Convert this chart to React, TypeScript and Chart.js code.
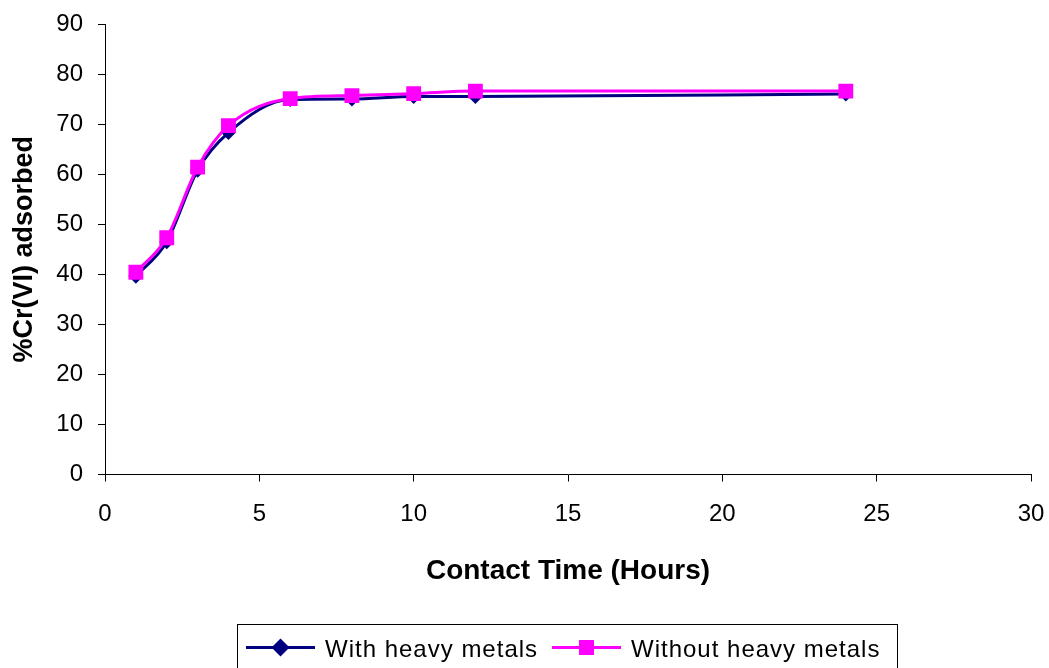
import { useEffect, useRef } from "react";
import { Chart, registerables } from "chart.js";

Chart.register(...registerables);

const contactTime = [1, 2, 3, 4, 6, 8, 10, 12, 24];
const withHeavyMetals = [39.6, 46.5, 60.8, 68.3, 74.9, 75.0, 75.5, 75.5, 76.0];
const withoutHeavyMetals = [40.4, 47.3, 61.4, 69.7, 75.1, 75.7, 76.1, 76.6, 76.6];
const seriesLabels = ["With heavy metals", "Without heavy metals"];
const seriesColors = ["#000080", "#FF00FF"];
const xTitle = "Contact Time (Hours)";
const yTitle = "%Cr(VI) adsorbed";

const FONT = '"Liberation Sans", Arial, Helvetica, sans-serif';

const boxLegend = {
  id: "boxLegend",
  afterDraw(chart: any) {
    const ctx = chart.ctx as CanvasRenderingContext2D;
    ctx.save();
    ctx.strokeStyle = "#000";
    ctx.lineWidth = 1;
    ctx.strokeRect(237.5, 624.5, 660, 60);
    const starts = [246, 552];
    const y = 647.5;
    chart.data.datasets.forEach((ds: any, i: number) => {
      const x0 = starts[i];
      ctx.strokeStyle = ds.borderColor;
      ctx.lineWidth = 3;
      ctx.beginPath();
      ctx.moveTo(x0, y);
      ctx.lineTo(x0 + 69, y);
      ctx.stroke();
      const cx = x0 + 34.5;
      ctx.fillStyle = ds.backgroundColor;
      ctx.beginPath();
      if (ds.pointStyle === "rectRot") {
        const r = 9;
        ctx.moveTo(cx, y - r);
        ctx.lineTo(cx + r, y);
        ctx.lineTo(cx, y + r);
        ctx.lineTo(cx - r, y);
        ctx.closePath();
      } else {
        const s = 7.5;
        ctx.rect(cx - s, y - s, 2 * s, 2 * s);
      }
      ctx.fill();
      ctx.fillStyle = "#000";
      ctx.font = `24px ${FONT}`;
      (ctx as any).letterSpacing = "1px";
      ctx.textBaseline = "alphabetic";
      ctx.textAlign = "left";
      ctx.fillText(ds.label, x0 + 79, 657);
    });
    ctx.restore();
  },
};

export default function App() {
  const ref = useRef<HTMLCanvasElement>(null);
  useEffect(() => {
    if (!ref.current) return;
    const chart = new Chart(ref.current, {
      type: "line",
      data: {
        datasets: [
          {
            label: seriesLabels[0],
            data: contactTime.map((t, i) => ({ x: t, y: withHeavyMetals[i] })),
            borderColor: seriesColors[0],
            backgroundColor: seriesColors[0],
            borderWidth: 3,
            pointStyle: "rectRot",
            pointRadius: 7.5,
            pointBorderWidth: 0,
            cubicInterpolationMode: "monotone",
            order: 1,
          },
          {
            label: seriesLabels[1],
            data: contactTime.map((t, i) => ({ x: t, y: withoutHeavyMetals[i] })),
            borderColor: seriesColors[1],
            backgroundColor: seriesColors[1],
            borderWidth: 3,
            pointStyle: "rect",
            pointRadius: 10.5,
            pointBorderWidth: 0,
            cubicInterpolationMode: "monotone",
            order: 0,
          },
        ],
      },
      options: {
        animation: false,
        responsive: false,
        layout: { padding: { left: 0, right: 18, top: 24, bottom: 79.5 } },
        plugins: {
          legend: { display: false },
          tooltip: { enabled: false },
        },
        scales: {
          x: {
            type: "linear",
            min: 0,
            max: 30,
            ticks: {
              stepSize: 5,
              color: "#000",
              font: { family: FONT, size: 24 },
              padding: 18,
              maxRotation: 0,
            },
            grid: {
              drawOnChartArea: false,
              drawTicks: true,
              tickLength: 7,
              color: "#000",
              lineWidth: 1,
            },
            border: { color: "#000", width: 1 },
            title: {
              display: true,
              text: xTitle,
              color: "#000",
              font: { family: FONT, size: 28, weight: "bold" },
              padding: { top: 0, bottom: 0 },
            },
            afterFit: (scale: any) => {
              scale.height = 114;
              scale.paddingRight = 0;
              scale.paddingLeft = 0;
            },
          },
          y: {
            min: 0,
            max: 90,
            ticks: {
              stepSize: 10,
              color: "#000",
              font: { family: FONT, size: 24 },
              padding: 15,
            },
            grid: {
              drawOnChartArea: false,
              drawTicks: true,
              tickLength: 7,
              color: "#000",
              lineWidth: 1,
            },
            border: { color: "#000", width: 1 },
            title: {
              display: true,
              text: yTitle,
              color: "#000",
              font: { family: FONT, size: 27, weight: "bold" },
              padding: { top: 8, bottom: 0 },
            },
            afterFit: (scale: any) => {
              scale.width = 105;
              scale.paddingTop = 0;
              scale.paddingBottom = 0;
            },
          },
        },
      } as any,
      plugins: [boxLegend],
    });
    return () => chart.destroy();
  }, []);
  return (
    <div style={{ position: "absolute", left: 0, top: 0, width: 1049, height: 668, background: "#fff" }}>
      <canvas ref={ref} width={1049} height={668} style={{ display: "block" }} />
    </div>
  );
}
